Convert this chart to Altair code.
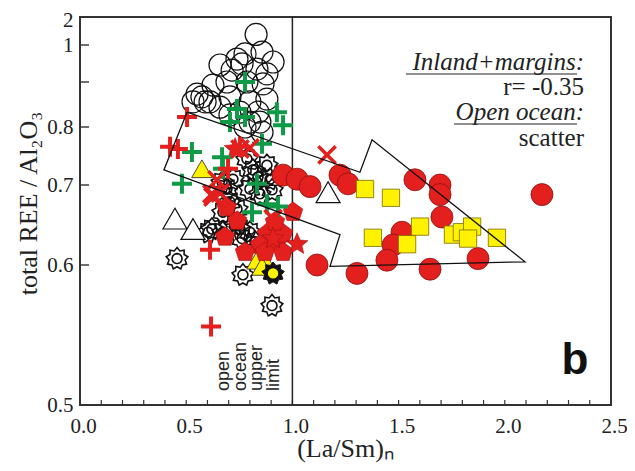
import math
import altair as alt
import pandas as pd

# ---------------- data ----------------
open_circle_x = [0.829, 0.777, 0.857, 0.909, 0.659, 0.716, 0.763, 0.880, 0.833, 0.551,
                 0.589, 0.574, 0.626, 0.692, 0.786, 0.862, 0.706, 0.800, 0.753, 0.838,
                 0.659, 0.880, 0.800, 0.612, 0.532, 0.739, 0.847, 0.706, 0.777, 0.857]
open_circle_y = [1.423, 0.976, 0.981, 0.954, 0.946, 0.932, 0.949, 0.922, 0.935, 0.873,
                 0.856, 0.867, 0.893, 0.900, 0.900, 0.896, 0.867, 0.856, 0.833, 0.833,
                 0.844, 0.862, 0.811, 0.856, 0.856, 0.962, 0.811, 0.827, 0.800, 0.791]

green_plus_x = [0.777, 0.739, 0.777, 0.927, 0.956, 0.706, 0.857, 0.527, 0.480, 0.810,
                0.880, 0.932, 0.669, 0.833, 0.673]
green_plus_y = [0.900, 0.840, 0.822, 0.833, 0.804, 0.811, 0.771, 0.757, 0.702, 0.666,
                0.676, 0.673, 0.748, 0.702, 0.728]

red_plus_x = [0.504, 0.424, 0.461, 0.612, 0.617, 0.753, 0.697]
red_plus_y = [0.822, 0.766, 0.762, 0.619, 0.556, 0.766, 0.728]

red_x_x = [1.163, 0.621, 0.645, 0.753, 0.800, 0.909, 0.626, 0.660]
red_x_y = [0.752, 0.689, 0.709, 0.762, 0.764, 0.658, 0.685, 0.690]

yellow_tri_x = [0.574, 0.833, 0.880, 0.857]
yellow_tri_y = [0.728, 0.606, 0.601, 0.599]

open_tri_x = [0.447, 0.532, 1.168]
open_tri_y = [0.658, 0.645, 0.691]

open_star_x = [0.457, 0.767, 0.904, 0.603, 0.621, 0.706, 0.739, 0.753, 0.800, 0.763,
               0.692, 0.880, 0.838, 0.800, 0.847, 0.904, 0.730, 0.673, 0.720, 0.669,
               0.786, 0.814, 0.673, 0.895, 0.824]
open_star_y = [0.608, 0.593, 0.571, 0.641, 0.645, 0.679, 0.670, 0.645, 0.641, 0.633,
               0.695, 0.734, 0.714, 0.695, 0.689, 0.694, 0.650, 0.641, 0.710, 0.705,
               0.745, 0.726, 0.666, 0.710, 0.629]

dark_star_x = [0.909]
dark_star_y = [0.594]

red_star_x = [1.022, 0.909, 0.730]
red_star_y = [0.626, 0.633, 0.762]

red_pent_x = [1.003, 0.927, 0.880, 0.847, 0.956, 0.683, 0.777, 0.871, 0.956, 0.918, 0.690, 0.740]
red_pent_y = [0.666, 0.629, 0.639, 0.625, 0.616, 0.635, 0.616, 0.616, 0.639, 0.654, 0.672, 0.655]

red_circle_x = [0.956, 1.022, 1.083, 1.224, 1.262, 1.577, 1.695, 1.695, 1.704, 1.516,
                1.474, 1.445, 1.116, 1.304, 1.648, 1.874, 2.175]
red_circle_y = [0.717, 0.710, 0.698, 0.717, 0.702, 0.709, 0.700, 0.688, 0.660, 0.641,
                0.625, 0.606, 0.600, 0.594, 0.597, 0.608, 0.688]

yellow_sq_x = [1.342, 1.464, 1.379, 1.540, 1.601, 1.756, 1.798, 1.846, 1.827, 1.963]
yellow_sq_y = [0.695, 0.684, 0.634, 0.626, 0.648, 0.638, 0.641, 0.648, 0.633, 0.634]

field_x = [0.504, 0.395, 1.224, 1.177, 2.095, 1.375, 1.318, 0.504]
field_y = [0.833, 0.726, 0.638, 0.599, 0.604, 0.778, 0.722, 0.833]

limit_x = [1.0]

x_tick_labels = [0.0, 0.5, 1.0, 1.5, 2.0, 2.5]
x_minor_ticks = [round(0.1 * i, 1) for i in range(1, 25)]
y_tick_labels = [0.5, 0.6, 0.7, 0.8, 1.0, 2.0]
y_minor_ticks = [0.6, 0.7, 0.8, 0.9, 1.0]

# ---------------- styling ----------------
RED = "#e3201e"
GREEN = "#0f9a48"
YELLOW = "#fff200"
SERIF = "Liberation Serif"
SANS = "Liberation Sans"

H = 388
XS = alt.Scale(domain=[0, 2.5], nice=False, zero=False)
YS = alt.Scale(domain=[0.5, 0.6, 0.7, 0.8, 0.9, 1.0, 2.0],
               range=[388, 248, 168, 110, 65, 28, 3], nice=False, zero=False)
XT = "(La/Sm)ₙ"
YT = "total REE / Al₂O₃"
XA = alt.Axis(values=x_tick_labels, format=".1f", labelFont=SERIF, labelFontSize=21,
              labelColor="#222", labelPadding=10, labelOffset=3, ticks=False, domain=False,
              grid=False, labelFlush=False, labelOverlap=False,
              titleFont=SERIF, titleFontSize=26, titleFontWeight="normal", titleColor="#222",
              titleX=265, titleY=43, titleAlign="center", titleBaseline="middle")
YA = alt.Axis(values=y_tick_labels,
              labelExpr="datum.value >= 1 ? format(datum.value, 'd') : format(datum.value, '.1f')",
              labelFont=SERIF, labelFontSize=21, labelColor="#222", labelPadding=7,
              ticks=False, domain=False, grid=False, labelFlush=False, labelOverlap=False,
              titleFont=SERIF, titleFontSize=26, titleFontWeight="normal", titleColor="#222",
              titleX=-52, titleY=186, titleAlign="center", titleBaseline="middle")


def X():
    return alt.X("x:Q", scale=XS, axis=XA, title=XT)


def Y():
    return alt.Y("y:Q", scale=YS, axis=YA, title=YT)


def star_path(n, r_out, r_in):
    pts = []
    for i in range(2 * n):
        r = r_out if i % 2 == 0 else r_in
        a = math.radians(-90 + i * 180.0 / n)
        pts.append(f"{r * math.cos(a):.3f},{r * math.sin(a):.3f}")
    return "M" + "L".join(pts) + "Z"


def poly_path(n, r):
    pts = []
    for i in range(n):
        a = math.radians(-90 + i * 360.0 / n)
        pts.append(f"{r * math.cos(a):.3f},{r * math.sin(a):.3f}")
    return "M" + "L".join(pts) + "Z"


PLUS = "M-1,0L1,0M0,-1L0,1"
CROSS = "M-1,-1L1,1M-1,1L1,-1"
SUN = star_path(9, 1.0, 0.74) + poly_path(20, 0.45)
STAR9 = star_path(9, 1.0, 0.74)
STAR5 = star_path(5, 1.0, 0.45)
PENT = poly_path(5, 1.0)


def pts(xs, ys):
    return alt.Chart(pd.DataFrame({"x": xs, "y": ys}))


layers = []

# inward ticks
layers.append(alt.Chart(pd.DataFrame({"x": x_minor_ticks})).mark_rule(color="#333", strokeWidth=1.2)
              .encode(x=X(), y=alt.value(H), y2=alt.value(H - 5)))
layers.append(alt.Chart(pd.DataFrame({"y": y_minor_ticks})).mark_rule(color="#333", strokeWidth=1.4)
              .encode(y=Y(), x=alt.value(0), x2=alt.value(9)))
# open ocean upper limit line
layers.append(alt.Chart(pd.DataFrame({"x": limit_x})).mark_rule(color="#222", strokeWidth=1.5)
              .encode(x=X()))

layers.append(pts(open_circle_x, open_circle_y).mark_point(
    shape="circle", size=484, filled=False, color="#111", strokeWidth=1.2, opacity=1).encode(x=X(), y=Y()))
layers.append(pts(open_star_x, open_star_y).mark_point(
    shape=SUN, size=484, filled=False, color="#111", strokeWidth=1.6, opacity=1).encode(x=X(), y=Y()))
layers.append(pts(open_tri_x, open_tri_y).mark_point(
    shape="triangle-up", size=576, filled=True, fill="white", stroke="#111", strokeWidth=1.2,
    opacity=1).encode(x=X(), y=Y()))
layers.append(pts(yellow_tri_x, yellow_tri_y).mark_point(
    shape="triangle-up", size=420, filled=True, fill=YELLOW, stroke="#222", strokeWidth=0.8,
    opacity=1).encode(x=X(), y=Y()))
layers.append(pts(red_pent_x, red_pent_y).mark_point(
    shape=PENT, size=420, filled=True, fill=RED, stroke="#a01010", strokeWidth=0.6,
    opacity=1).encode(x=X(), y=Y()))
layers.append(pts(red_star_x, red_star_y).mark_point(
    shape=STAR5, size=520, filled=True, fill=RED, stroke="#a01010", strokeWidth=0.6,
    opacity=1).encode(x=X(), y=Y()))
layers.append(pts(red_circle_x, red_circle_y).mark_point(
    shape="circle", size=484, filled=True, fill=RED, stroke="#8c1010", strokeWidth=0.8,
    opacity=1).encode(x=X(), y=Y()))
layers.append(pts(yellow_sq_x, yellow_sq_y).mark_point(
    shape="square", size=300, filled=True, fill=YELLOW, stroke="#7a6a00", strokeWidth=0.8,
    opacity=1).encode(x=X(), y=Y()))
layers.append(pts(green_plus_x, green_plus_y).mark_point(
    shape=PLUS, size=400, filled=False, color=GREEN, strokeWidth=4, opacity=1).encode(x=X(), y=Y()))
layers.append(pts(red_plus_x, red_plus_y).mark_point(
    shape=PLUS, size=400, filled=False, color=RED, strokeWidth=4, opacity=1).encode(x=X(), y=Y()))
layers.append(pts(red_x_x, red_x_y).mark_point(
    shape=CROSS, size=300, filled=False, color=RED, strokeWidth=3.5, opacity=1).encode(x=X(), y=Y()))
layers.append(pts(dark_star_x, dark_star_y).mark_point(
    shape=STAR9, size=520, filled=True, fill="#111", stroke="#111", strokeWidth=1,
    opacity=1).encode(x=X(), y=Y()))
layers.append(pts(dark_star_x, dark_star_y).mark_point(
    shape="circle", size=70, filled=True, fill=YELLOW, stroke=YELLOW, opacity=1).encode(x=X(), y=Y()))

# field outline
layers.append(alt.Chart(pd.DataFrame({"x": field_x, "y": field_y, "o": list(range(len(field_x)))}))
              .mark_line(color="#111", strokeWidth=1.3)
              .encode(x=X(), y=Y(), order="o:Q"))

ONE = pd.DataFrame({"k": [0]})


def note(text, x, y, **kw):
    return alt.Chart(ONE).mark_text(text=text, **kw).encode(x=alt.value(x), y=alt.value(y))


layers.append(note("Inland+margins:", 504, 53, align="right", baseline="alphabetic", font=SERIF,
                   fontSize=25, fontStyle="italic", color="#222"))
layers.append(note("r= -0.35", 504, 78, align="right", baseline="alphabetic", font=SERIF,
                   fontSize=25, color="#222"))
layers.append(note("Open ocean:", 504, 103, align="right", baseline="alphabetic", font=SERIF,
                   fontSize=25, fontStyle="italic", color="#222"))
layers.append(note("scatter", 504, 129, align="right", baseline="alphabetic", font=SERIF,
                   fontSize=25, color="#222"))
layers.append(alt.Chart(ONE).mark_rule(color="#222", strokeWidth=1.2).encode(
    x=alt.value(326), x2=alt.value(497), y=alt.value(57)))
layers.append(alt.Chart(ONE).mark_rule(color="#222", strokeWidth=1.2).encode(
    x=alt.value(374), x2=alt.value(497), y=alt.value(107)))
layers.append(note(["open", "ocean", "upper", "limit"], 135, 374, align="left", baseline="top",
                   angle=270, font=SANS, fontSize=18, lineHeight=16.5, color="#222"))
layers.append(note("b", 495, 357, align="center", baseline="alphabetic", font=SANS,
                   fontSize=44, fontWeight="bold", color="#111"))

chart = alt.layer(*layers).properties(
    width=531, height=H,
    padding={"left": 72, "top": 9, "right": 16, "bottom": 64},
    autosize=alt.AutoSizeParams(type="none"),
    background="white",
).configure_view(stroke="#333", strokeWidth=2)

chart.save("out.html", embed_options={"renderer": "svg", "actions": False})
